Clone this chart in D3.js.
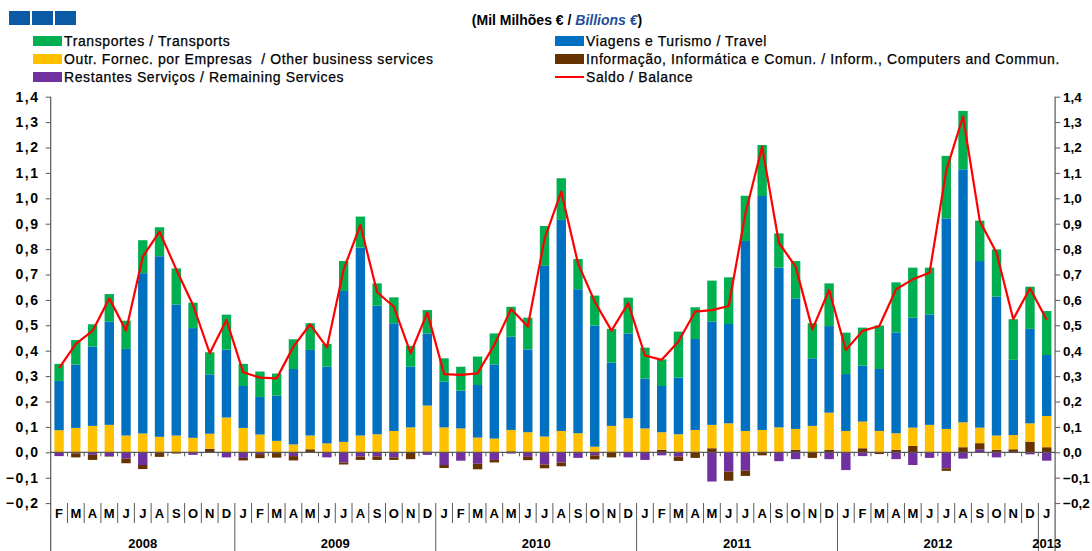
<!DOCTYPE html>
<html><head><meta charset="utf-8">
<script src="https://cdn.jsdelivr.net/npm/d3@7"></script>
<style>
html,body{margin:0;padding:0;background:#fff;}
svg{display:block;font-family:"Liberation Sans",Arial,sans-serif;}
</style></head>
<body>
<svg id="chart" width="1092" height="551"></svg>
<script>
// ---------- DATA ----------
const months = ["F","M","A","M","J","J","A","S","O","N","D",
  "J","F","M","A","M","J","J","A","S","O","N","D",
  "J","F","M","A","M","J","J","A","S","O","N","D",
  "J","F","M","A","M","J","J","A","S","O","N","D",
  "J","F","M","A","M","J","J","A","S","O","N","D",
  "J"];
const years = ["2008","2009","2010","2011","2012","2013"];
const yearStart = [0, 11, 23, 35, 47, 59];
const yearEnd   = [10, 22, 34, 46, 58, 59];

const transports = [0.067,0.097,0.088,0.109,0.111,0.130,0.114,0.142,0.100,0.087,0.138,
  0.087,0.100,0.087,0.117,0.105,0.090,0.118,0.122,0.088,0.102,0.082,0.092,
  0.092,0.094,0.112,0.122,0.118,0.125,0.157,0.164,0.119,0.118,0.133,0.141,
  0.122,0.105,0.181,0.125,0.162,0.184,0.178,0.201,0.135,0.147,0.138,0.168,
  0.163,0.150,0.171,0.197,0.197,0.184,0.246,0.230,0.159,0.186,0.160,0.166,
  0.173];
const travel = [0.194,0.249,0.312,0.406,0.341,0.631,0.711,0.516,0.432,0.234,0.267,
  0.165,0.148,0.178,0.297,0.337,0.302,0.594,0.740,0.506,0.424,0.239,0.284,
  0.180,0.149,0.207,0.292,0.367,0.326,0.672,0.831,0.567,0.477,0.249,0.334,
  0.196,0.182,0.223,0.358,0.406,0.391,0.748,0.921,0.629,0.514,0.266,0.341,
  0.224,0.220,0.244,0.397,0.433,0.435,0.829,0.996,0.656,0.547,0.296,0.372,
  0.240];
const otherBusiness = [0.087,0.096,0.104,0.108,0.066,0.074,0.061,0.066,0.057,0.059,0.137,
  0.096,0.070,0.045,0.031,0.054,0.035,0.041,0.066,0.071,0.084,0.098,0.181,
  0.098,0.091,0.058,0.054,0.084,0.079,0.062,0.084,0.075,0.022,0.104,0.134,
  0.094,0.069,0.071,0.088,0.092,0.114,0.084,0.088,0.098,0.082,0.104,0.146,
  0.084,0.105,0.084,0.065,0.072,0.108,0.092,0.098,0.061,0.056,0.056,0.072,
  0.123];
const infoComp = [0,-0.016,-0.020,-0.002,-0.018,-0.016,-0.015,-0.005,0,0.014,0,
  -0.010,-0.016,-0.018,-0.017,0.012,0,-0.008,-0.013,-0.013,-0.010,-0.027,0.003,
  -0.012,0.003,-0.022,-0.010,0.004,-0.013,-0.015,-0.015,0,-0.016,-0.020,0,
  0,0.010,-0.017,-0.022,0.016,-0.036,-0.021,-0.012,0,0.010,-0.022,0.010,
  0,0.016,-0.007,0.010,0.025,0,-0.010,0.020,0.024,0.010,0.012,0.042,
  0.020];
const remaining = [-0.015,-0.004,-0.010,-0.015,-0.025,-0.050,-0.003,0,-0.010,0,-0.020,
  -0.022,-0.007,-0.003,-0.015,0,-0.020,-0.040,-0.017,-0.017,-0.020,0,-0.010,
  -0.050,-0.033,-0.045,-0.030,-0.005,-0.018,-0.048,-0.040,-0.022,-0.012,0,-0.020,
  -0.030,-0.012,-0.017,0,-0.115,-0.076,-0.072,0,-0.035,-0.027,0,-0.027,
  -0.070,-0.015,0,-0.027,-0.050,-0.022,-0.063,-0.025,0.012,-0.020,-0.003,-0.008,
  -0.033];
const balance = [0.331,0.427,0.478,0.606,0.479,0.770,0.869,0.720,0.580,0.390,0.521,
  0.315,0.294,0.291,0.416,0.504,0.413,0.720,0.895,0.630,0.573,0.390,0.550,
  0.308,0.305,0.311,0.423,0.564,0.495,0.840,1.026,0.744,0.593,0.479,0.587,
  0.381,0.364,0.436,0.554,0.560,0.576,0.940,1.203,0.825,0.731,0.484,0.639,
  0.403,0.478,0.497,0.642,0.681,0.707,1.110,1.322,0.911,0.786,0.524,0.646,
  0.521];
const yTicks = [-0.2,-0.1,0,0.1,0.2,0.3,0.4,0.5,0.6,0.7,0.8,0.9,1.0,1.1,1.2,1.3,1.4];

const seriesKeys = ["remaining","infoComp","otherBusiness","travel","transports"];
const colors = {transports:"#00b050", travel:"#0070c0", otherBusiness:"#ffc000",
  infoComp:"#663300", remaining:"#7030a0", balance:"#ff0000"};
const legendItems = [
  {key:"transports", label:"Transportes / Transports", col:0, row:0},
  {key:"otherBusiness", label:"Outr. Fornec. por Empresas  / Other business services", col:0, row:1},
  {key:"remaining", label:"Restantes Serviços / Remaining Services", col:0, row:2},
  {key:"travel", label:"Viagens e Turismo / Travel", col:1, row:0},
  {key:"infoComp", label:"Informação, Informática e Comun. / Inform., Computers and Commun.", col:1, row:1},
  {key:"balance", label:"Saldo / Balance", col:1, row:2}
];

// ---------- BUILD ----------
const table = months.map((m,i)=>({idx:i, transports:transports[i], travel:travel[i],
  otherBusiness:otherBusiness[i], infoComp:infoComp[i], remaining:remaining[i], balance:balance[i]}));

const svg = d3.select("#chart");
const W = 1092, H = 551;
const xL = 50.7, xR = 1055.1;
const x = d3.scaleBand().domain(d3.range(months.length)).range([xL, xR]).paddingInner(0.44).paddingOuter(0.22);
const xs = d3.scaleBand().domain(d3.range(months.length)).range([xL, xR]); // slots
const y = d3.scaleLinear().domain([-0.2, 1.4]).range([503.1, 96.7]);
const fmt = v => d3.format(".1f")(Math.round(v*10)/10).replace(".", ",").replace("-0,0","0,0");
const axisColor = "#595959";

// stacked bars
const stack = d3.stack().keys(seriesKeys).order(d3.stackOrderNone).offset(d3.stackOffsetDiverging);
const layers = stack(table);
svg.append("g").selectAll("g").data(layers).join("g")
  .attr("fill", d => colors[d.key])
  .selectAll("rect").data(d => d).join("rect")
  .attr("x", d => x(d.data.idx))
  .attr("width", x.bandwidth())
  .attr("y", d => y(Math.max(d[0], d[1])))
  .attr("height", d => Math.abs(y(d[0]) - y(d[1])));

// zero line
svg.append("line").attr("x1", xL).attr("x2", xR).attr("y1", y(0)).attr("y2", y(0))
  .attr("stroke", axisColor).attr("stroke-width", 1.2);
// small ticks on zero line
svg.append("g").selectAll("line").data(d3.range(1, months.length)).join("line")
  .attr("x1", d => xs(d)).attr("x2", d => xs(d))
  .attr("y1", y(0)).attr("y2", y(0) + 4)
  .attr("stroke", axisColor).attr("stroke-width", 1);

// balance line
const line = d3.line().x(d => xs(d.idx) + xs.bandwidth()/2).y(d => y(d.balance));
svg.append("path").datum(table).attr("d", line).attr("fill", "none")
  .attr("stroke", colors.balance).attr("stroke-width", 2.2).attr("stroke-linejoin","round");

// axes
const gL = svg.append("g").attr("transform", `translate(${xL},0)`)
  .call(d3.axisLeft(y).tickValues(yTicks).tickFormat(fmt).tickSize(5).tickPadding(6));
const gR = svg.append("g").attr("transform", `translate(${xR},0)`)
  .call(d3.axisRight(y).tickValues(yTicks).tickFormat(fmt).tickSize(5).tickPadding(3));
[gL, gR].forEach(g => {
  g.select(".domain").remove();
  g.selectAll(".tick line").attr("stroke", axisColor);
  g.selectAll(".tick text").attr("font-size", 14).attr("font-weight", "bold")
    .attr("fill", "#000").attr("font-family", "Liberation Sans, Arial, sans-serif");
});
gL.selectAll(".tick text").attr("letter-spacing", "1.6px");
gR.selectAll(".tick text").attr("font-size", 13.5);
// axis vertical lines
[xL, xR].forEach(px => svg.append("line").attr("x1", px).attr("x2", px)
  .attr("y1", y(1.4)).attr("y2", H).attr("stroke", axisColor).attr("stroke-width", 1.2));

// month labels
svg.append("g").selectAll("text").data(months).join("text")
  .attr("x", (d,i) => xs(i) + xs.bandwidth()/2).attr("y", 518)
  .attr("text-anchor", "middle").attr("font-size", 13).attr("font-weight", "bold")
  .text(d => d);
// month separators
svg.append("g").selectAll("line").data(d3.range(1, months.length)).join("line")
  .attr("x1", d => xs(d)).attr("x2", d => xs(d))
  .attr("y1", 503).attr("y2", d => yearStart.includes(d) ? H : 523)
  .attr("stroke", axisColor).attr("stroke-width", 1);
// year labels
svg.append("g").selectAll("text").data(years).join("text")
  .attr("x", (d,i) => (xs(yearStart[i]) + xs(yearEnd[i]) + xs.bandwidth())/2)
  .attr("y", 548).attr("text-anchor", "middle")
  .attr("font-size", 13).attr("font-weight", "bold").text(d => d);

// top-left squares
svg.append("g").selectAll("rect").data([0,1,2]).join("rect")
  .attr("x", d => 9 + d*23).attr("y", 11).attr("width", 21).attr("height", 14)
  .attr("fill", "#0b5aa6");

// title
const title = svg.append("text").attr("x", 557).attr("y", 25).attr("text-anchor", "middle")
  .attr("font-size", 14).attr("font-weight", "bold");
title.append("tspan").text("(Mil Milhões € / ");
title.append("tspan").attr("fill", "#1f4f9a").attr("font-style", "italic").text("Billions €");
title.append("tspan").text(")");

// legend
const colX = [33, 555];
const rowY = [41, 59, 77];
const lg = svg.append("g").selectAll("g").data(legendItems).join("g")
  .attr("transform", d => `translate(${colX[d.col]},${rowY[d.row]})`);
lg.each(function(d){
  const g = d3.select(this);
  if (d.key === "balance") {
    g.append("line").attr("x1", 0).attr("x2", 29).attr("y1", 0).attr("y2", 0)
      .attr("stroke", colors.balance).attr("stroke-width", 2);
  } else {
    g.append("rect").attr("x", 0).attr("y", -5).attr("width", 29).attr("height", 10)
      .attr("fill", colors[d.key]);
  }
  g.append("text").attr("x", 31).attr("y", 5).attr("font-size", 14)
    .attr("letter-spacing", "0.6px").attr("stroke", "#000").attr("stroke-width", 0.25)
    .style("white-space", "pre").text(d.label);
});
</script>
</body></html>
